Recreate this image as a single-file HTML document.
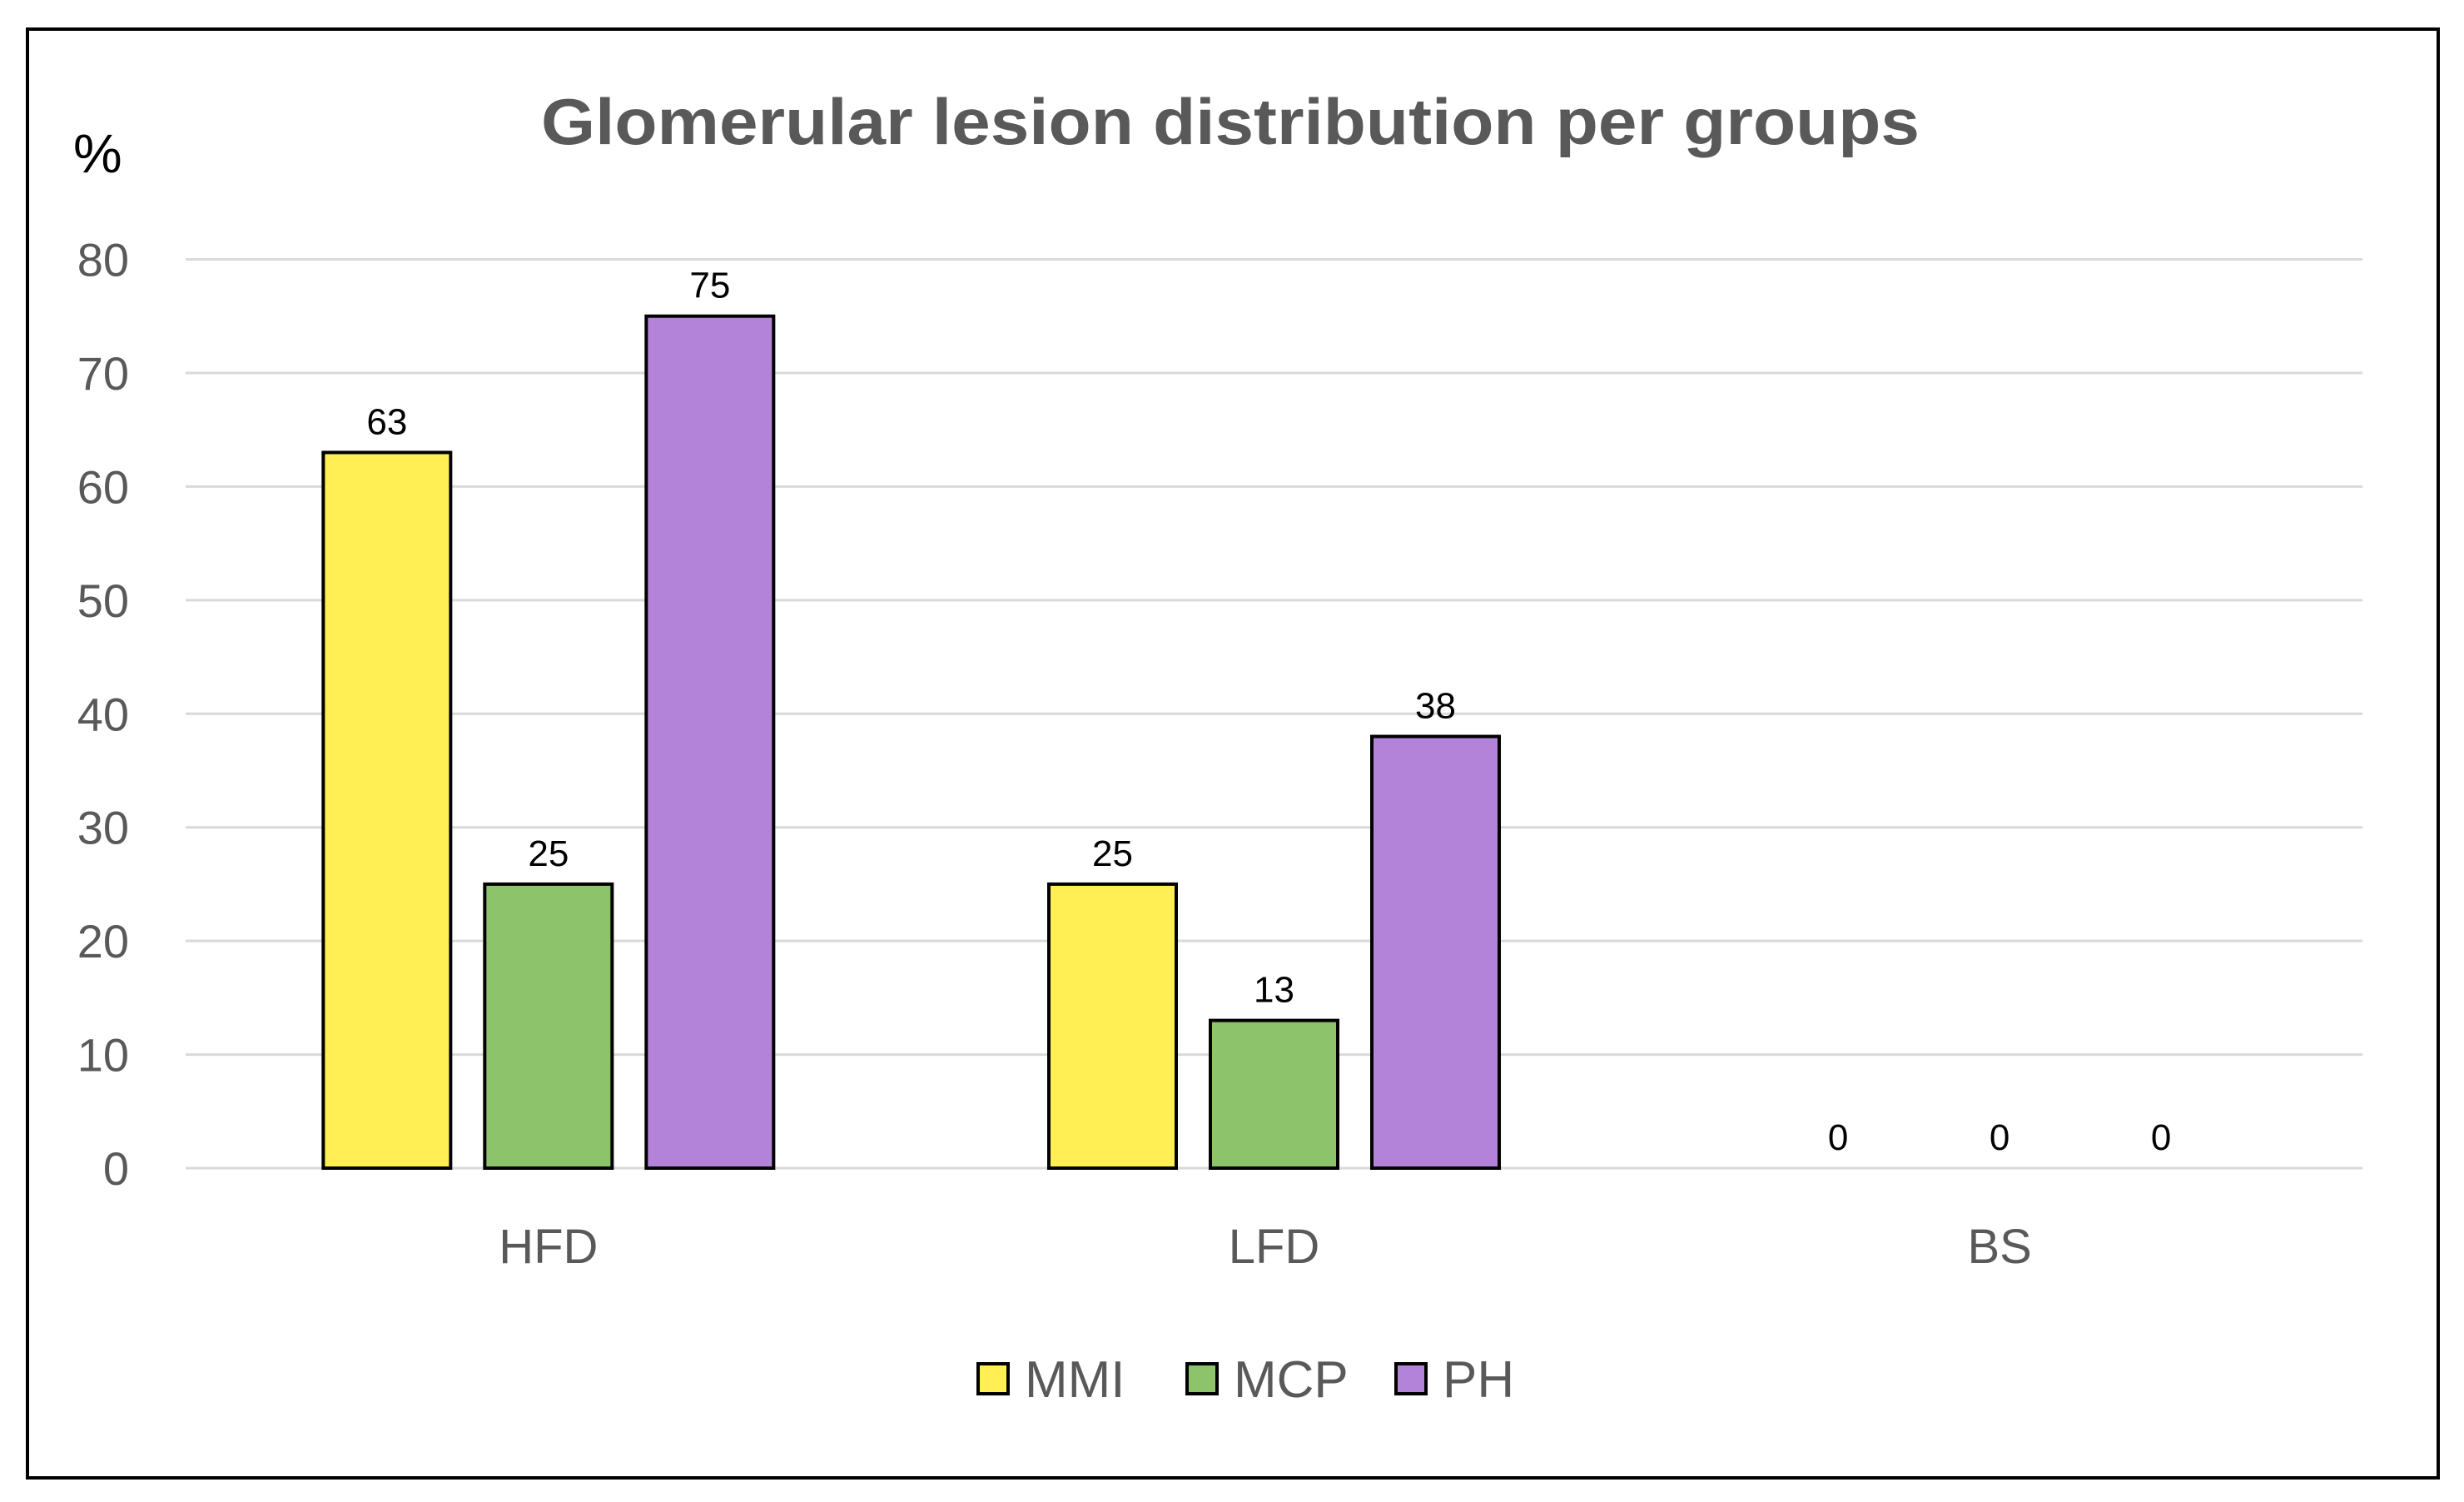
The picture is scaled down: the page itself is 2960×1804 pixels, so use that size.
<!DOCTYPE html>
<html><head><meta charset="utf-8"><style>
html,body{margin:0;padding:0;background:#fff;}
svg{display:block;font-family:"Liberation Sans",sans-serif;}
</style></head><body>
<svg id="chart" width="2960" height="1804" viewBox="0 0 2960 1804" xmlns="http://www.w3.org/2000/svg">
<rect x="33" y="35" width="2896" height="1740" fill="#fff" stroke="#000" stroke-width="4"/>
<text x="1478" y="173" text-anchor="middle" font-size="78" font-weight="bold" fill="#595959" textLength="1656" lengthAdjust="spacingAndGlyphs">Glomerular lesion distribution per groups</text>
<text x="88" y="207" font-size="66" fill="#000">%</text>
<g id="grid"></g>
<g id="yticks"></g>
<g id="bars"></g>
<g id="vals"></g>
<g id="cats"></g>
<g id="legend"></g>
</svg>
<script>
const categories = ["HFD", "LFD", "BS"];
const seriesNames = ["MMI", "MCP", "PH"];
const mmiValues = [63, 25, 0];
const mcpValues = [25, 13, 0];
const phValues = [75, 38, 0];
const yTicks = [0, 10, 20, 30, 40, 50, 60, 70, 80];

const colors = ["#FFEF55", "#8DC36B", "#B383DA"];
const series = [mmiValues, mcpValues, phValues];
const NS = "http://www.w3.org/2000/svg";
const x0 = 223, x1 = 2838, yBase = 1403, yTop = 311.5, yMax = 80;
function yScale(v){ return yBase - (v / yMax) * (yBase - yTop); }
const catW = (x1 - x0) / categories.length;
function xCenter(i){ return x0 + catW * (i + 0.5); }
const barW = 153, pitch = 194;
function mk(tag, attrs, parent){ const e = document.createElementNS(NS, tag); for (const k in attrs) e.setAttribute(k, attrs[k]); parent.appendChild(e); return e; }

const grid = document.getElementById('grid'), yt = document.getElementById('yticks');
yTicks.forEach(t => {
  const l = mk('line', {x1: x0, x2: x1, y1: yScale(t), y2: yScale(t), stroke: '#D9D9D9', 'stroke-width': 3}, grid);
  
  
  const tx = mk('text', {x: 155, y: yScale(t) + 20, 'text-anchor': 'end', 'font-size': 56, fill: '#595959'}, yt);
  tx.textContent = t;
  
  
});

const bars = document.getElementById('bars'), vals = document.getElementById('vals'), cats = document.getElementById('cats');
categories.forEach((c, i) => {
  series.forEach((s, j) => {
    const cx = xCenter(i) + (j - 1) * pitch;
    const v = s[i];
    if (v > 0) {
      const r = mk('rect', {x: cx - barW / 2, y: yScale(v), width: barW, height: yBase - yScale(v), fill: colors[j], stroke: '#000', 'stroke-width': 4}, bars);
      
      
    }
    const t = mk('text', {x: cx, y: yScale(v) - 22, 'text-anchor': 'middle', 'font-size': 44, fill: '#000'}, vals);
    t.textContent = v;
    
    
  });
  const ct = mk('text', {x: xCenter(i), y: 1517, 'text-anchor': 'middle', 'font-size': 58, fill: '#595959'}, cats);
  ct.textContent = c;
  
  
});

const lg = document.getElementById('legend');
const legX = [1175, 1426, 1677];
seriesNames.forEach((n, j) => {
  const sw = mk('rect', {x: legX[j], y: 1638, width: 36, height: 36, fill: colors[j], stroke: '#000', 'stroke-width': 4}, lg);
  
  
  const t = mk('text', {x: legX[j] + 56, y: 1678, 'font-size': 62, fill: '#595959'}, lg);
  t.textContent = n;
  
  
});
</script>
</body></html>
